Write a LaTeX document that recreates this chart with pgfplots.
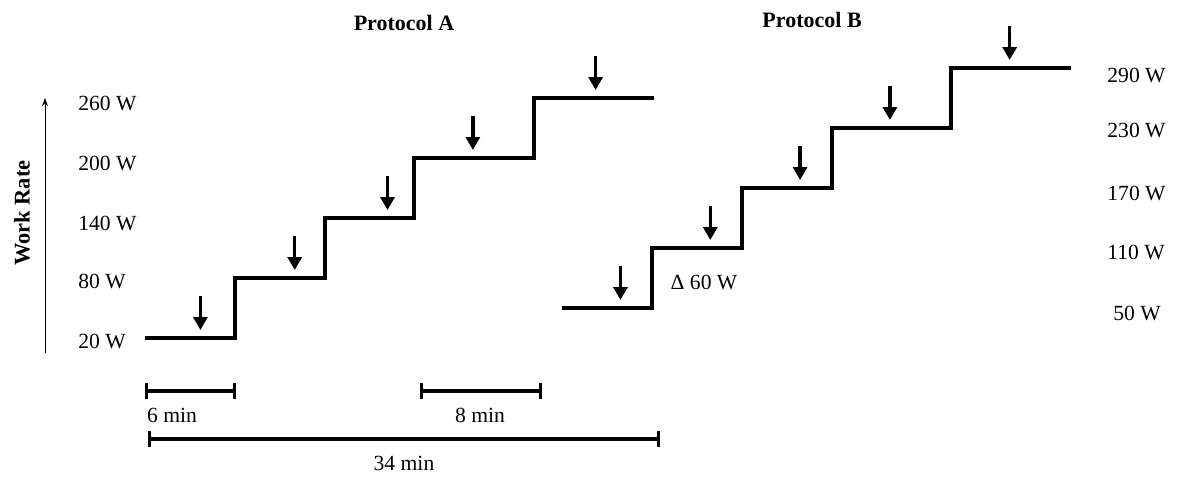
\documentclass[border=0pt]{standalone}
\usepackage{fontspec}
\setmainfont{Liberation Serif}
\usepackage{pgfplots}
\pgfplotsset{compat=1.18}
\usepackage{pgfplotstable}
\usetikzlibrary{arrows.meta}

% step profiles: time (min), work rate (W)
\pgfplotstableread{
t W
0 20
6 20
6 80
12 80
12 140
18 140
18 200
26 200
26 260
34 260
}\protA
\pgfplotstableread{
t W
0 50
6 50
6 110
12 110
12 170
18 170
18 230
26 230
26 290
34 290
}\protB
% arrows: time, arrow tail height
\pgfplotstableread{
t W
3.7 62
10.0 122
16.2 182
21.9 242
30.1 302
}\arrA
\pgfplotstableread{
t W
3.9 92
9.9 152
15.9 212
21.9 272
29.9 332
}\arrB

\begin{document}
\fontsize{10.8}{13}\selectfont
\begin{tikzpicture}
\begin{axis}[
  width=589.5pt, height=236.5pt, scale only axis,
  xmin=-9.686, xmax=69.07, ymin=-115, ymax=358,
  hide axis, clip=false,
]
\path (rel axis cs:0,0) rectangle (rel axis cs:1,1);
\addplot[black, line width=2pt, line join=miter] table[x=t, y=W] {\protA};
\addplot[black, line width=2pt, line join=miter] table[x expr=\thisrow{t}+27.86, y=W] {\protB};

\addplot[black, line width=1.7pt, -{Triangle[width=7pt,length=6.5pt]},
  quiver={u=0, v=-34}] table[x=t, y=W] {\arrA};
\addplot[black, line width=1.7pt, -{Triangle[width=7pt,length=6.5pt]},
  quiver={u=0, v=-34}] table[x expr=\thisrow{t}+27.86, y=W] {\arrB};

% scale bars
\addplot[black, line width=1.8pt, {Bar[width=8pt,line width=1.4pt]}-{Bar[width=8pt,line width=1.4pt]}] coordinates {(0,-33) (6.08,-33)};
\addplot[black, line width=1.8pt, {Bar[width=8pt,line width=1.4pt]}-{Bar[width=8pt,line width=1.4pt]}] coordinates {(18.37,-33) (26.52,-33)};
\addplot[black, line width=1.8pt, {Bar[width=8pt,line width=1.4pt]}-{Bar[width=8pt,line width=1.4pt]}] coordinates {(0.2,-81) (34.4,-81)};
\node at (axis cs:1.8,-57) {6 min};
\node at (axis cs:22.38,-57) {8 min};
\node at (axis cs:17.3,-105) {34 min};

% work rate axis
\draw[black, line width=0.5pt, -{Stealth[width=3pt,length=4pt]}] (axis cs:-6.68,5) -- (axis cs:-6.68,260);
\node[rotate=90, font=\fontsize{11.2}{13}\selectfont\bfseries] at (axis cs:-8.22,145) {Work Rate};

\node[font=\fontsize{11}{13}\selectfont\bfseries] at (axis cs:17.3,335) {Protocol A};
\node[font=\fontsize{11}{13}\selectfont\bfseries] at (axis cs:44.56,338) {Protocol B};

\node[anchor=west, inner sep=0pt] at (axis cs:-4.48,255) {260 W};
\node[anchor=west, inner sep=0pt] at (axis cs:-4.48,195) {200 W};
\node[anchor=west, inner sep=0pt] at (axis cs:-4.48,135) {140 W};
\node[anchor=west, inner sep=0pt] at (axis cs:-4.48,77) {80 W};
\node[anchor=west, inner sep=0pt] at (axis cs:-4.48,17) {20 W};

\node[anchor=west, inner sep=0pt] at (axis cs:64.26,283) {290 W};
\node[anchor=west, inner sep=0pt] at (axis cs:64.26,228) {230 W};
\node[anchor=west, inner sep=0pt] at (axis cs:64.26,165) {170 W};
\node[anchor=west, inner sep=0pt] at (axis cs:64.26,106) {110 W};
\node[anchor=west, inner sep=0pt] at (axis cs:64.66,45) {50 W};

\node at (axis cs:37.34,76) {Δ 60 W};
\end{axis}
\end{tikzpicture}
\end{document}
